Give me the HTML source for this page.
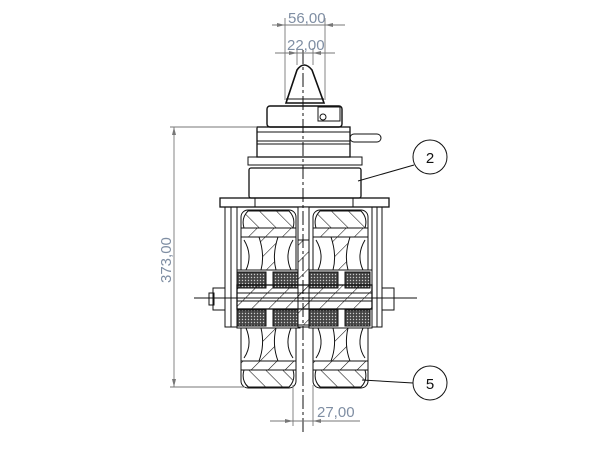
<!DOCTYPE html>
<html><head><style>html,body{margin:0;background:#fff}svg{display:block}</style></head><body>
<svg width="610" height="450" viewBox="0 0 610 450" xmlns="http://www.w3.org/2000/svg">
<defs>
<pattern id="h" width="12" height="12" patternUnits="userSpaceOnUse" patternTransform="rotate(45)"><line x1="0" y1="0" x2="0" y2="12" stroke="#111" stroke-width="1.1"/></pattern>
<pattern id="h2" width="12" height="12" patternUnits="userSpaceOnUse" patternTransform="rotate(-45)"><line x1="0" y1="0" x2="0" y2="12" stroke="#111" stroke-width="1.1"/></pattern>
<pattern id="dots" width="3" height="3" patternUnits="userSpaceOnUse"><rect width="3" height="3" fill="#444"/><circle cx="1.5" cy="1.5" r="0.7" fill="#ccc"/></pattern>
<g id="wheel" fill="none" stroke="#111" stroke-width="1">
 <rect x="0" y="0" width="55" height="178" rx="7" fill="#fff"/>
 <path d="M3 18 Q0 8 7 1 H48 Q55 8 52 18Z" fill="url(#h2)"/>
 <path d="M0 18 H55 V27 H0Z" fill="url(#h)"/>
 <path d="M3 160 Q0 170 7 177 H48 Q55 170 52 160Z" fill="url(#h2)"/>
 <path d="M0 151 H55 V160 H0Z" fill="url(#h)"/>
 <path d="M3 30 Q12 45 5 60 M52 30 Q43 45 50 60"/>
 <path d="M18 27 Q24 45 20 60 H35 Q31 45 37 27" fill="url(#h)"/>
 <path d="M3 148 Q12 135 5 118 M52 148 Q43 135 50 118"/>
 <path d="M18 151 Q24 135 20 118 H35 Q31 135 37 151" fill="url(#h)"/>
 <rect x="-4" y="60" width="63" height="58" fill="#fff"/>
 <rect x="-4" y="62" width="29" height="16" fill="url(#dots)"/>
 <rect x="32" y="62" width="25" height="16" fill="url(#dots)"/>
 <rect x="-4" y="100" width="29" height="16" fill="url(#dots)"/>
 <rect x="32" y="100" width="25" height="16" fill="url(#dots)"/>
</g>
</defs>
<g fill="none" stroke="#111" stroke-width="1">
 <!-- nose -->
 <path d="M286 103 L297 70 Q304 60 312 70 L324 103 Z" stroke-width="1.6"/>
 <line x1="286" y1="99" x2="324" y2="99"/>
 <!-- collar -->
 <rect x="267" y="106" width="75" height="21" rx="3" stroke-width="1.4"/>
 <rect x="318" y="107" width="22" height="14"/>
 <circle cx="323" cy="117" r="3"/>
 <!-- body -->
 <rect x="257" y="127" width="93" height="30" stroke-width="1.3"/>
 <line x1="257" y1="132" x2="350" y2="132"/><line x1="257" y1="141" x2="350" y2="141"/><line x1="257" y1="144" x2="350" y2="144"/>
 <rect x="350" y="134" width="31" height="8" rx="4"/>
 <rect x="248" y="157" width="114" height="8"/>
 <rect x="249" y="168" width="112" height="30" rx="2" stroke-width="1.3"/>
 <!-- frame -->
 <rect x="220" y="198" width="169" height="9" stroke-width="1.3"/>
 <line x1="255" y1="198" x2="255" y2="207"/><line x1="353" y1="198" x2="353" y2="207"/>
 <rect x="225" y="207" width="12" height="120"/><rect x="372" y="207" width="10" height="120"/>
 <line x1="231" y1="207" x2="231" y2="327"/><line x1="377" y1="207" x2="377" y2="327"/>
 <use href="#wheel" x="241" y="210"/>
 <use href="#wheel" x="313" y="210"/>
 <!-- center shaft -->
 <rect x="298" y="207" width="11" height="120" fill="#fff"/>
 <rect x="298" y="240" width="11" height="85" fill="url(#h)"/>
 <!-- axle -->
 <rect x="237" y="285" width="135" height="24" fill="url(#h)" stroke-width="1.3"/>
 <line x1="237" y1="293" x2="372" y2="293"/><line x1="237" y1="301" x2="372" y2="301"/>
 <!-- nuts -->
 <rect x="213" y="288" width="12" height="22"/><rect x="209" y="293" width="5" height="12"/>
 <rect x="382" y="288" width="12" height="22"/>
 <line x1="194" y1="298" x2="417" y2="298"/>
 <!-- centerline -->
 <line x1="303" y1="50" x2="303" y2="432" stroke-dasharray="14 3 3 3"/>
 <!-- balloons -->
 <circle cx="430" cy="157" r="17"/><line x1="414" y1="165" x2="358" y2="181"/>
 <circle cx="430" cy="383" r="17"/><line x1="413" y1="383" x2="362" y2="380"/>
</g>
<g stroke="#777" stroke-width="0.9" fill="none">
 <line x1="285" y1="18" x2="285" y2="100"/><line x1="325" y1="18" x2="325" y2="100"/>
 <line x1="272" y1="25" x2="345" y2="25"/>
 <line x1="297" y1="48" x2="297" y2="65"/><line x1="313" y1="48" x2="313" y2="65"/>
 <line x1="275" y1="53" x2="335" y2="53"/>
 <line x1="170" y1="127" x2="257" y2="127"/><line x1="170" y1="387" x2="245" y2="387"/>
 <line x1="174" y1="127" x2="174" y2="387"/>
 <line x1="293" y1="385" x2="293" y2="426"/><line x1="313" y1="385" x2="313" y2="426"/>
 <line x1="270" y1="421" x2="360" y2="421"/>
</g>
<g fill="#777">
 <path d="M285 25 l-8 -2 v4z M325 25 l8 -2 v4z"/>
 <path d="M297 53 l-8 -2 v4z M313 53 l8 -2 v4z"/>
 <path d="M174 127 l-2 8 h4z M174 387 l-2 -8 h4z"/>
 <path d="M293 421 l-8 -2 v4z M313 421 l8 -2 v4z"/>
</g>
<g font-family="Liberation Sans, sans-serif" font-size="15" fill="#7f8ea3">
 <text x="288" y="23">56,00</text>
 <text x="287" y="50">22,00</text>
 <text x="317" y="417">27,00</text>
 <text transform="translate(171,283) rotate(-90)">373,00</text>
</g>
<g font-family="Liberation Sans, sans-serif" font-size="15" fill="#111" text-anchor="middle">
 <text x="430" y="163">2</text><text x="430" y="389">5</text>
</g>
</svg>
</body></html>
